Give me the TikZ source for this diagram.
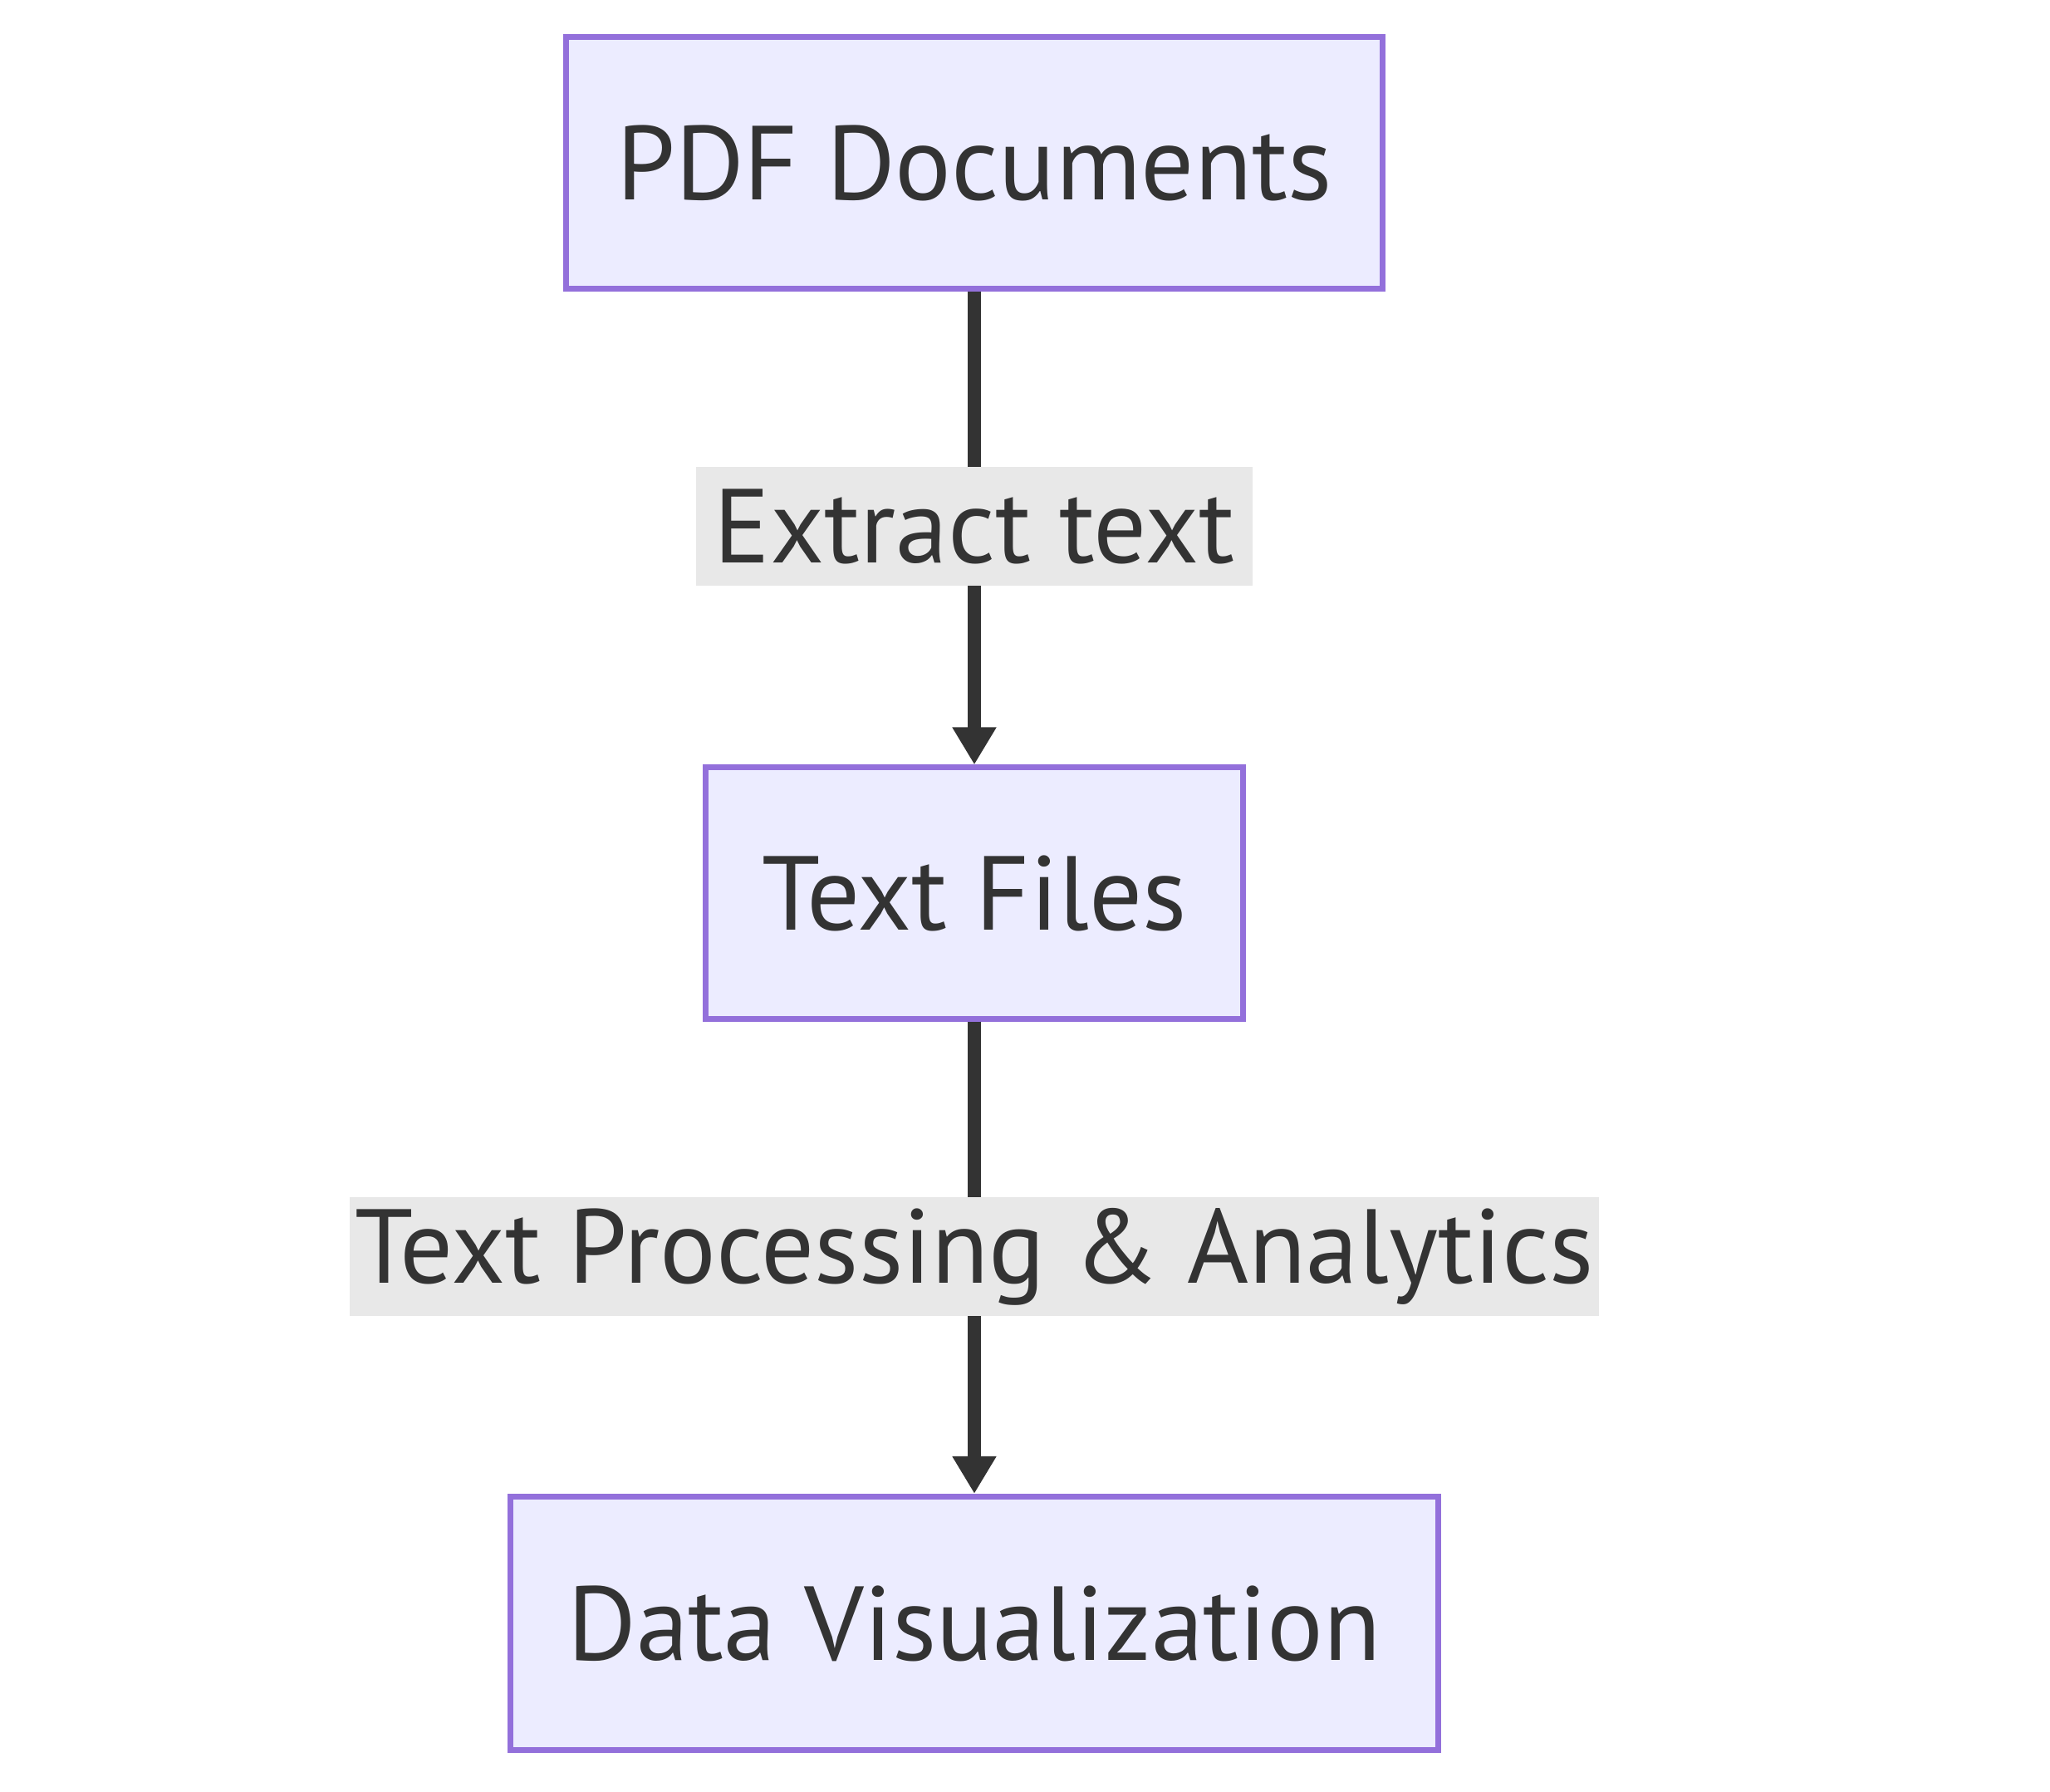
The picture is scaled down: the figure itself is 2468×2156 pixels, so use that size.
\documentclass[tikz,border=0pt]{standalone}
\usepackage{fontspec}
\setmainfont{PT Sans}
\usetikzlibrary{arrows.meta}
\definecolor{boxfill}{HTML}{ECECFF}
\definecolor{boxdraw}{HTML}{9370DB}
\definecolor{ink}{HTML}{333333}
\definecolor{lblbg}{HTML}{E8E8E8}
\tikzset{
  px/.style={x=0.01cm,y=-0.01cm},
  flowbox/.style={draw=boxdraw, fill=boxfill, line width=2pt, text=ink, inner sep=0pt,
    font=\fontsize{36}{40}\selectfont},
  edgelbl/.style={fill=lblbg, text=ink, inner sep=0pt, minimum height=1.43cm,
    font=\fontsize{36}{40}\selectfont},
  conn/.style={draw=ink, line width=4.6pt, -{Triangle[width=0.5cm,length=0.45cm]}}
}
\begin{document}
\begin{tikzpicture}[px]
\useasboundingbox (0,0) rectangle (2468,2156);
\node[flowbox, minimum width=9.83cm, minimum height=3.03cm] (pdf) at (1173,196) {PDF Documents};
\node[flowbox, minimum width=6.47cm, minimum height=3.02cm] (txt) at (1173,1075) {Text Files};
\node[flowbox, minimum width=11.17cm, minimum height=3.05cm] (viz) at (1173,1954) {Data Visualization};
\draw[conn] (pdf.south) -- (txt.north);
\draw[conn] (txt.south) -- (viz.north);
\node[edgelbl, minimum width=6.69cm] (l1) at (1173,633.5) {Extract text};
\node[edgelbl, minimum width=15.04cm] (l2) at (1173,1512.5) {Text Processing \& Analytics};
\end{tikzpicture}
\end{document}
